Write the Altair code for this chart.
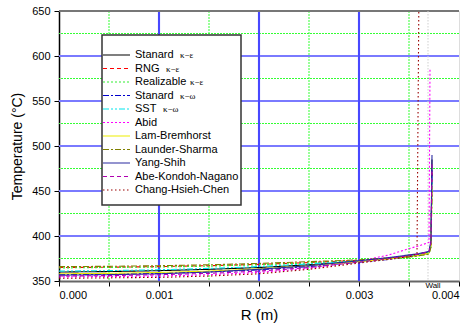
import altair as alt
import pandas as pd

# ---------------- data ----------------
models = ["Standard k-e", "RNG k-e", "Realizable k-e", "Standard k-w", "SST k-w", "Abid",
          "Lam-Bremhorst", "Launder-Sharma", "Yang-Shih", "Abe-Kondoh-Nagano", "Chang-Hsieh-Chen"]
legend_main = ["Stanard", "RNG", "Realizable", "Stanard", "SST", "Abid",
               "Lam-Bremhorst", "Launder-Sharma", "Yang-Shih", "Abe-Kondoh-Nagano", "Chang-Hsieh-Chen"]
legend_greek = ["κ−ε", "κ−ε", "κ−ε", "κ−ω", "κ−ω", "", "", "", "", "", ""]

colors = ["#000000", "#ff0000", "#33ee33", "#0000cc", "#00e5ee", "#ff00ff",
          "#eeee00", "#808000", "#2a2aa0", "#b000b0", "#990000"]

R_core = [0.0, 0.0005, 0.001, 0.0015, 0.002, 0.0025, 0.003, 0.0033, 0.0035]

T_core = {
    "Standard k-e":      [360.0, 360.5, 361.5, 363.0, 365.0, 368.0, 372.0, 375.0, 378.0],
    "RNG k-e":           [365.0, 365.3, 366.0, 367.0, 368.5, 370.5, 373.0, 375.5, 377.0],
    "Realizable k-e":    [364.5, 365.0, 365.5, 366.5, 368.0, 370.0, 372.5, 375.0, 376.5],
    "Standard k-w":      [357.0, 357.5, 358.5, 360.0, 362.5, 366.0, 371.0, 374.0, 377.0],
    "SST k-w":           [361.0, 361.5, 362.5, 364.0, 366.0, 369.0, 372.5, 375.0, 377.5],
    "Abid":              [354.5, 355.0, 355.5, 357.0, 359.5, 364.0, 372.0, 379.0, 386.0],
    "Lam-Bremhorst":     [358.0, 358.5, 359.5, 361.0, 363.5, 367.0, 371.5, 374.5, 377.0],
    "Launder-Sharma":    [366.0, 366.3, 367.0, 368.0, 369.5, 371.5, 373.5, 375.5, 377.0],
    "Yang-Shih":         [356.5, 357.0, 358.0, 360.0, 363.0, 367.0, 372.5, 376.0, 379.0],
    "Abe-Kondoh-Nagano": [355.5, 356.0, 357.0, 358.5, 361.0, 365.0, 371.0, 375.0, 378.0],
    "Chang-Hsieh-Chen":  [353.0, 353.5, 354.0, 355.5, 358.0, 363.0, 370.0, 374.0, 377.0],
}

R_tail = {
    "Standard k-e":      [0.0036, 0.0037, 0.00372, 0.00373],
    "RNG k-e":           [0.0036, 0.0037, 0.00372, 0.00373],
    "Realizable k-e":    [0.0036, 0.0037, 0.00372, 0.00373],
    "Standard k-w":      [0.0036, 0.0037, 0.00372, 0.00373],
    "SST k-w":           [0.0036, 0.0037, 0.00372, 0.00373],
    "Abid":              [0.0036, 0.0037, 0.00371],
    "Lam-Bremhorst":     [0.0036, 0.0037, 0.00372, 0.00373],
    "Launder-Sharma":    [0.0036, 0.0037, 0.00372, 0.00373],
    "Yang-Shih":         [0.0036, 0.0037, 0.00372, 0.00373],
    "Abe-Kondoh-Nagano": [0.0036, 0.0037, 0.00372, 0.00373],
    "Chang-Hsieh-Chen":  [0.00358, 0.0036],
}
T_tail = {
    "Standard k-e":      [379.5, 382.0, 392.0, 485.0],
    "RNG k-e":           [378.5, 381.0, 390.0, 470.0],
    "Realizable k-e":    [378.0, 380.0, 388.0, 460.0],
    "Standard k-w":      [378.5, 381.0, 391.0, 475.0],
    "SST k-w":           [379.0, 381.5, 390.0, 465.0],
    "Abid":              [389.0, 393.0, 585.0],
    "Lam-Bremhorst":     [378.5, 381.0, 389.0, 455.0],
    "Launder-Sharma":    [378.0, 380.0, 388.0, 450.0],
    "Yang-Shih":         [380.5, 383.0, 395.0, 490.0],
    "Abe-Kondoh-Nagano": [380.0, 382.5, 393.0, 480.0],
    "Chang-Hsieh-Chen":  [380.0, 680.0],
}

x_major = [0.001, 0.002, 0.003]
x_minor = [0.0005, 0.0015, 0.0025, 0.0035]
y_major = [400, 450, 500, 550, 600]
y_minor = [375, 425, 475, 525, 575, 625]
x_ticks = [0.0, 0.0005, 0.001, 0.0015, 0.002, 0.0025, 0.003, 0.0035, 0.004]
y_ticks = [350, 400, 450, 500, 550, 600, 650]
wall_R = 0.00369

# ---------------- styles ----------------
dashes = [[1, 0], [4, 3], [2, 2], [6, 2, 2, 2], [6, 2, 2, 2, 2, 2], [2, 2],
          [1, 0], [6, 2, 2, 2], [1, 0], [4, 3], [1.5, 2.5]]
FONT = "Liberation Sans"
W, H = 400, 270

rows = []
for m in models:
    for r, t in zip(R_core + R_tail[m], T_core[m] + T_tail[m]):
        rows.append({"model": m, "R": r, "T": t})
df = pd.DataFrame(rows)

xs = alt.Scale(domain=[0, 0.004], nice=False)
ys = alt.Scale(domain=[350, 650], nice=False)
cs = alt.Scale(domain=models, range=colors)
ds = alt.Scale(domain=models, range=dashes)


def vrules(vals, color, width, dash=None, opacity=1.0):
    kw = dict(color=color, strokeWidth=width, opacity=opacity)
    if dash:
        kw["strokeDash"] = dash
    return alt.Chart(pd.DataFrame({"R": vals})).mark_rule(**kw).encode(x=alt.X("R:Q", scale=xs))


def hrules(vals, color, width, dash=None, opacity=1.0):
    kw = dict(color=color, strokeWidth=width, opacity=opacity)
    if dash:
        kw["strokeDash"] = dash
    return alt.Chart(pd.DataFrame({"T": vals})).mark_rule(**kw).encode(y=alt.Y("T:Q", scale=ys))


g1 = vrules(x_minor, "#33ff33", 1, [2, 1])
g2 = hrules(y_minor, "#33ff33", 1, [2, 1])
g3 = hrules(y_major, "#7a7aff", 2)
g4a = vrules(x_major, "#9090ff", 2.2)
g4 = vrules(x_major, "#0000ff", 1)
top = hrules([650], "#777777", 2)
wall = vrules([wall_R], "#cfcfcf", 1, [1.5, 1.5])

lines = alt.Chart(df).mark_line(strokeWidth=1.1, clip=True).encode(
    x=alt.X("R:Q", scale=xs, title="R (m)",
            axis=alt.Axis(values=x_ticks, labelExpr="abs(datum.value*1000 - round(datum.value*1000)) < 1e-6 ? format(datum.value, '.3f') : ''",
                          grid=False, domainColor="#666666", domainWidth=2, tickColor="#000000",
                          tickSize=5, labelFontSize=11, labelFont=FONT, titleFont=FONT,
                          titleFontSize=15, titleFontWeight="normal", labelPadding=3, titlePadding=7,
                          labelColor="#000000", titleColor="#000000")),
    y=alt.Y("T:Q", scale=ys, title="Temperature (°C)",
            axis=alt.Axis(values=y_ticks, grid=False, domainColor="#000000", domainWidth=1.5,
                          tickColor="#000000", tickSize=5, labelFontSize=11, labelFont=FONT,
                          titleFont=FONT, titleFontSize=14, titleFontWeight="normal",
                          labelPadding=4, titlePadding=7, labelColor="#000000", titleColor="#000000")),
    color=alt.Color("model:N", scale=cs, legend=None),
    strokeDash=alt.StrokeDash("model:N", scale=ds, legend=None),
    detail="model:N",
    order=alt.Order("R:Q"),
)

# legend (manual)
leg_top, leg_step = 44, 13.5
leg = pd.DataFrame({
    "model": models,
    "main": legend_main,
    "greek": legend_greek,
    "py": [leg_top + i * leg_step for i in range(len(models))],
    "gx": [121, 107, 131, 121, 104, 0, 0, 0, 0, 0, 0],
})

box = alt.Chart(pd.DataFrame({"a": [0]})).mark_rect(fill="white", stroke="#333333", strokeWidth=1.5).encode(
    x=alt.value(43), x2=alt.value(182), y=alt.value(24), y2=alt.value(194))

leg_lines = alt.Chart(leg).mark_rule(strokeWidth=1.2).encode(
    x=alt.value(44), x2=alt.value(71),
    y=alt.Y("py:Q", scale=None),
    color=alt.Color("model:N", scale=cs, legend=None),
    strokeDash=alt.StrokeDash("model:N", scale=ds, legend=None),
)
leg_text = alt.Chart(leg).mark_text(align="left", baseline="middle", font=FONT, fontSize=11, color="#000000").encode(
    x=alt.value(76), y=alt.Y("py:Q", scale=None), text="main:N")
leg_greek = alt.Chart(leg[leg["greek"] != ""]).mark_text(
    align="left", baseline="middle", font="Liberation Serif", fontSize=9, color="#000000").encode(
    x=alt.X("gx:Q", scale=None), y=alt.Y("py:Q", scale=None), text="greek:N")

wall_txt = alt.Chart(pd.DataFrame({"t": ["Wall"]})).mark_text(
    align="center", baseline="middle", font=FONT, fontSize=8, color="#000000").encode(
    x=alt.value(374), y=alt.value(274.5), text="t:N")

chart = alt.layer(g1, g2, g3, g4a, g4, top, wall, lines, box, leg_lines, leg_text, leg_greek, wall_txt).properties(
    width=W, height=H,
    padding={"left": 59, "top": 11, "right": 13, "bottom": 51},
    autosize=alt.AutoSizeParams(type="none"),
).configure_view(stroke=None).configure(background="white")

chart.save("out.html", embed_options={"renderer": "svg", "actions": False})
